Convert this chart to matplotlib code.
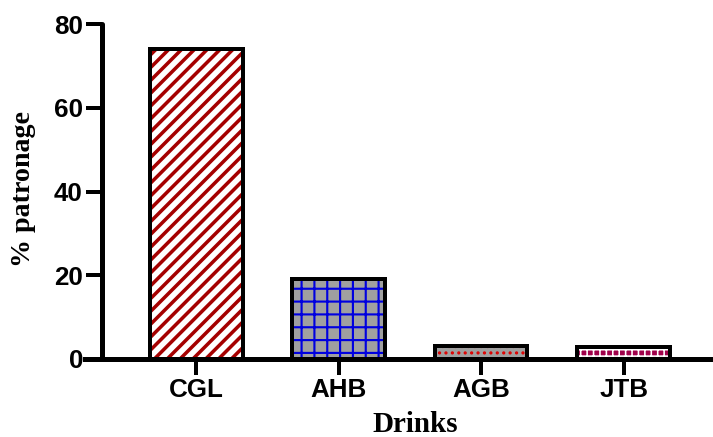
import numpy as np
import matplotlib.pyplot as plt
import matplotlib as mpl

# data
drinks = ["CGL", "AHB", "AGB", "JTB"]
patronage = [74, 19, 3, 2.8]

fill_colors = ["white", "#a0a0a0", "#a0a0a0", "#a0004a"]
hatch_colors = ["#a50000", "#0000e0", "#e00000", "white"]
hatches = ["//", "+", "..", "++"]
hatch_widths = [3.3, 2.0, 1.8, 1.5]

DPI = 77
W, H = 713, 437

def px(v):
    return v * 72.0 / DPI

fig = plt.figure(figsize=(W / DPI, H / DPI), dpi=DPI)
ax = fig.add_axes([85 / W, 78 / H, 628 / W, 335 / H])

x = np.arange(len(drinks))
bw = 0.65

for i in range(len(drinks)):
    with mpl.rc_context({"hatch.linewidth": hatch_widths[i]}):
        b = ax.bar(x[i], patronage[i], width=bw, color=fill_colors[i],
                   edgecolor=hatch_colors[i], hatch=hatches[i],
                   linewidth=0, zorder=2)
        for p in b:
            if hasattr(p, "set_hatch_linewidth"):
                p.set_hatch_linewidth(hatch_widths[i])
    ax.bar(x[i], patronage[i], width=bw, fill=False,
           edgecolor="black", linewidth=px(4), zorder=3)

ax.set_xlim(-0.782, 3.628)
ax.set_ylim(0, 80)
ax.set_yticks([0, 20, 40, 60, 80])
ax.set_xticks(x)
ax.set_xticklabels(drinks)

ax.spines["top"].set_visible(False)
ax.spines["right"].set_visible(False)
ax.spines["left"].set_position(("axes", (102 - 85) / 628))
ax.spines["left"].set_linewidth(px(5))
ax.spines["bottom"].set_linewidth(px(5))
ax.spines["left"].set_capstyle("round")

ax.tick_params(axis="both", length=px(16), width=px(4), color="black",
               labelsize=px(26), pad=px(3))
for lab in ax.get_xticklabels() + ax.get_yticklabels():
    lab.set_fontfamily("Liberation Sans")
    lab.set_fontweight("bold")

fig.text(24 / W, 1 - 189 / H, "% patronage", rotation=90, ha="center",
         va="center", fontsize=px(28), fontweight="bold",
         family="Liberation Serif")
fig.text(415 / W, 1 - 424 / H, "Drinks", ha="center", va="center",
         fontsize=px(29), fontweight="bold", family="Liberation Serif")

fig.savefig("out.png", dpi=DPI)
